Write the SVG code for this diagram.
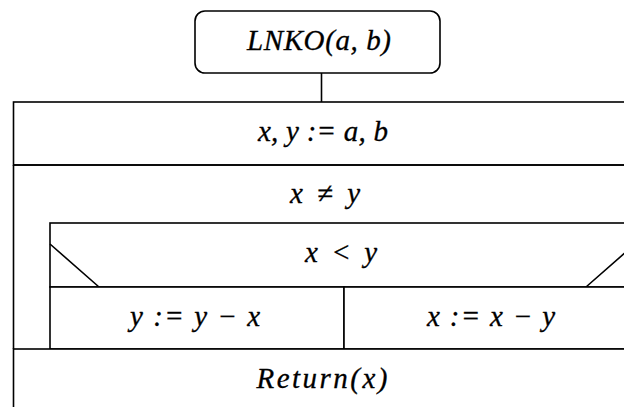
<svg xmlns="http://www.w3.org/2000/svg" width="624" height="407" viewBox="0 0 624 407">
<style>
.b{fill:#fff;stroke:#000;stroke-width:1.6}
.l{fill:none;stroke:#000;stroke-width:1.6}
text{font-family:"Liberation Serif","DejaVu Serif",serif;font-style:italic;font-size:29px;fill:#000;stroke:#000;stroke-width:0.3;text-anchor:middle}
</style>
<rect width="624" height="407" fill="#fff"/>
<g id="start">
<rect class="b" x="195" y="11" width="245" height="62" rx="10" ry="10"/>
<text x="319" y="50" textLength="144" lengthAdjust="spacing">LNKO(a, b)</text>
</g>
<g id="connectors">
<line class="l" x1="321.5" y1="73" x2="321.5" y2="102"/>
</g>
<g id="assign">
<rect class="b" x="13.5" y="102" width="640" height="63"/>
<text x="323" y="141" textLength="130" lengthAdjust="spacing">x, y := a, b</text>
</g>
<g id="loop">
<path class="l" d="M13.5 165 V349 M13.5 165 H640"/>
<text x="325" y="203" textLength="70" lengthAdjust="spacing">x ≠ y</text>
</g>
<g id="condition">
<rect class="b" x="50" y="223" width="600" height="64"/>
<path class="l" d="M50 244 L99 287 M586 287 L635 244"/>
<text x="341" y="262" textLength="72" lengthAdjust="spacing">x &lt; y</text>
</g>
<g id="branch-yes">
<rect class="b" x="50" y="287" width="294" height="62"/>
<text x="195" y="326" textLength="130" lengthAdjust="spacing">y := y − x</text>
</g>
<g id="branch-no">
<rect class="b" x="344" y="287" width="306" height="62"/>
<text x="491" y="326" textLength="128" lengthAdjust="spacing">x := x − y</text>
</g>
<g id="return">
<rect class="b" x="13.5" y="349" width="640" height="80"/>
<text x="322" y="388" textLength="131" lengthAdjust="spacing">Return(x)</text>
</g>
</svg>
